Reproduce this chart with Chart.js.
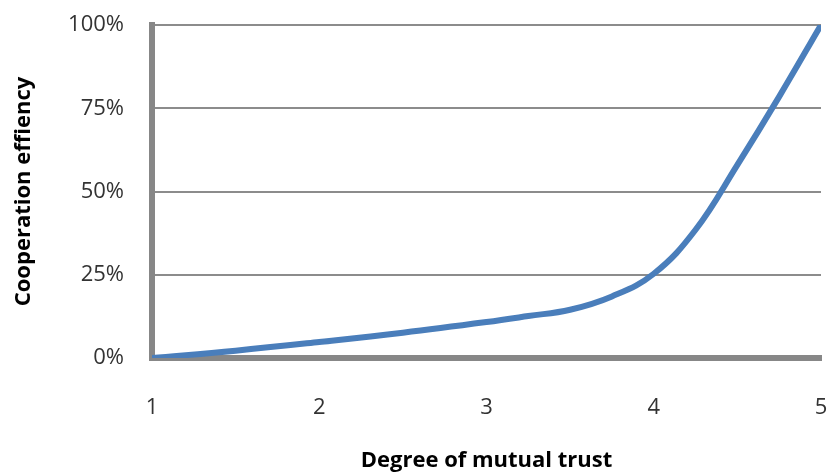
<!DOCTYPE html>
<html>
<head>
<meta charset="utf-8">
<script src="https://cdn.jsdelivr.net/npm/chart.js@4"></script>
<style>
  html, body { margin: 0; padding: 0; background: #fff; }
  #wrap { width: 828px; height: 474px; }
</style>
</head>
<body>
<div id="wrap"><canvas id="grafico"></canvas></div>
<script>
// valores
var confianca = [1, 1.5, 2, 2.5, 3, 3.25, 3.5, 3.75, 4, 4.25, 4.5, 4.75, 5]
var eficiencia = [0, 2.2, 4.8, 7.6, 10.8, 12.6, 14.5, 18.5, 25.3, 38.5, 58, 78.5, 100]
var ticksY = [0, 25, 50, 75, 100]

var pontos = []
for (let i = 0; i < confianca.length; i++) {
    pontos.push({ x: confianca[i], y: eficiencia[i] })
}

var fonte = "'Open Sans', sans-serif"

const config = {
    type: 'line',
    data: {
        datasets: [{
            label: 'Cooperation effiency',
            data: pontos,
            borderColor: '#4a7ebb',
            borderWidth: 6,
            pointRadius: 0,
            fill: false,
            tension: 0.4
        }]
    },
    options: {
        responsive: true,
        maintainAspectRatio: false,
        animation: false,
        layout: { padding: { left: 0, right: 7, top: 25, bottom: 0 } },
        plugins: {
            legend: { display: false },
            tooltip: { enabled: false }
        },
        scales: {
            x: {
                type: 'linear',
                min: 1,
                max: 5,
                grid: { display: false, drawTicks: false },
                border: { display: true, color: '#878787', width: 6 },
                ticks: {
                    stepSize: 1,
                    padding: 37,
                    color: '#333',
                    font: { family: fonte, size: 22 }
                },
                title: {
                    display: true,
                    text: 'Degree of mutual trust',
                    color: '#000',
                    font: { family: fonte, size: 22, weight: 'bold' },
                    padding: { top: 0, bottom: 0 }
                },
                afterFit: function (scale) {
                    scale.height = 116
                    // sem folga extra nas pontas
                    scale.paddingLeft = 0
                    scale.paddingRight = 0
                }
            },
            y: {
                min: 0,
                max: 100,
                afterBuildTicks: function (scale) {
                    scale.ticks = ticksY.map(function (v) { return { value: v } })
                },
                grid: { color: '#8c8c8c', lineWidth: 2, drawTicks: false },
                border: { display: true, color: '#878787', width: 6 },
                ticks: {
                    padding: 28,
                    color: '#333',
                    font: { family: fonte, size: 22 },
                    callback: function (v) { return v + '%' }
                },
                title: {
                    display: true,
                    text: 'Cooperation effiency',
                    color: '#000',
                    font: { family: fonte, size: 22, weight: 'bold' },
                    padding: { top: 11, bottom: 0 }
                },
                afterFit: function (scale) {
                    scale.width = 152
                    scale.paddingTop = 0
                    scale.paddingBottom = 0
                }
            }
        }
    }
}

let myChart = new Chart(document.getElementById('grafico'), config)
</script>
</body>
</html>
